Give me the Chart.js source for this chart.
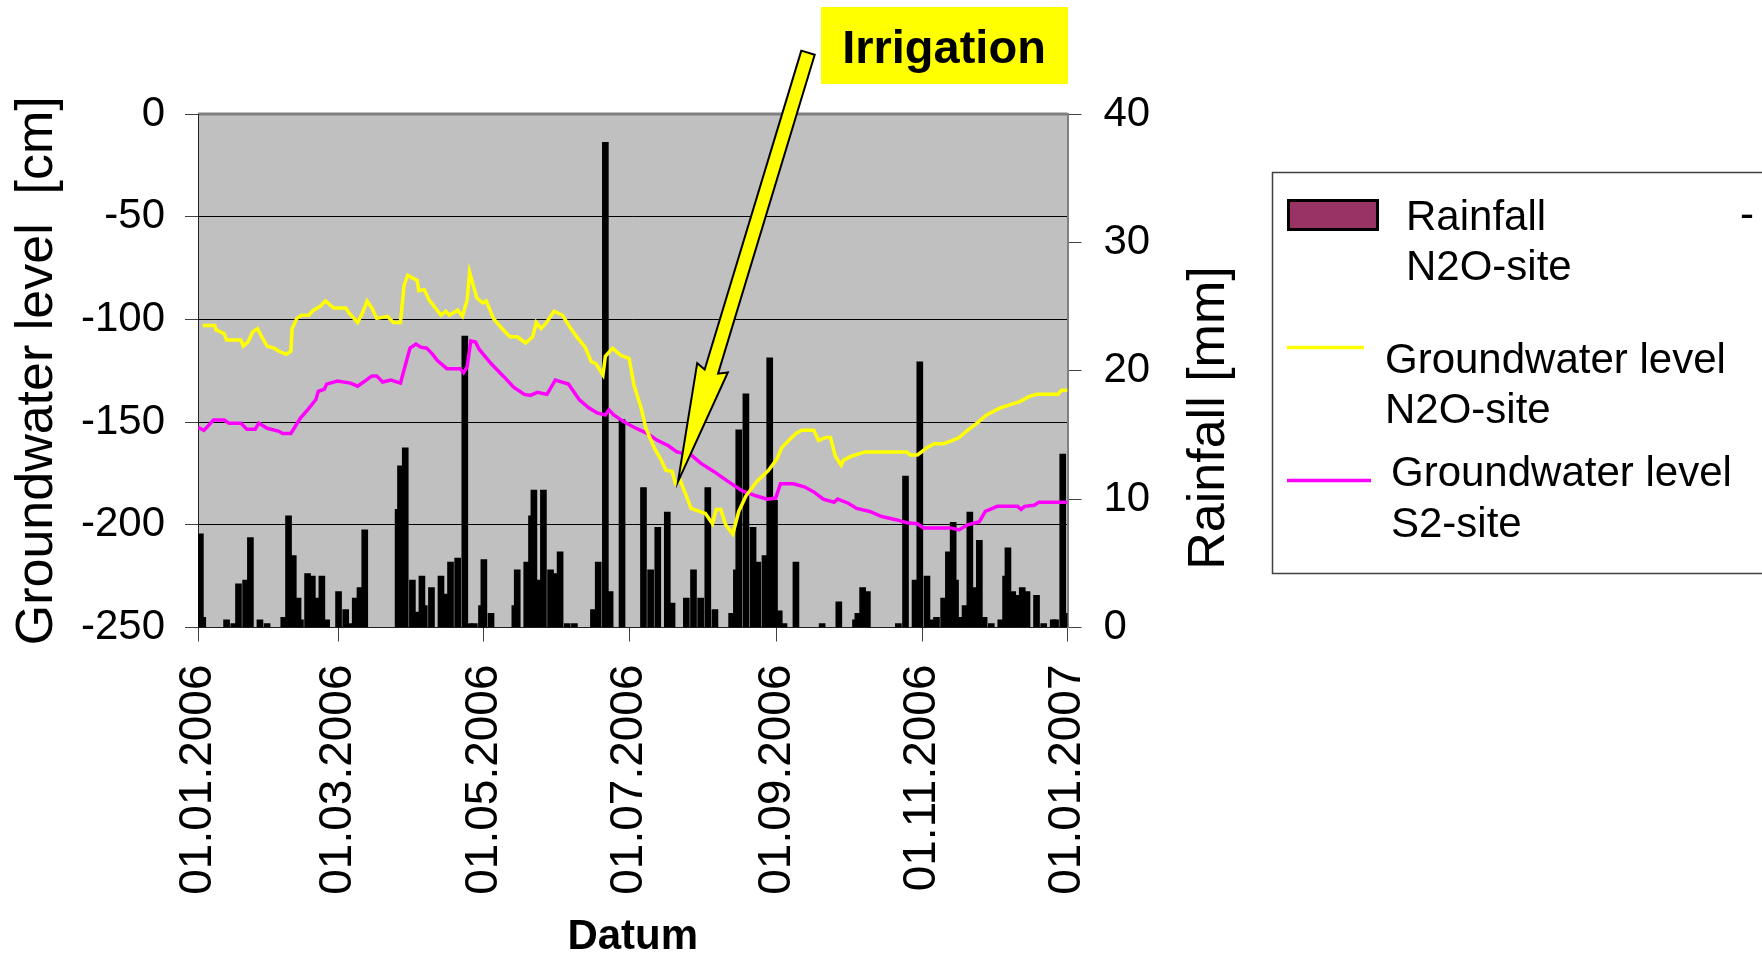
<!DOCTYPE html>
<html>
<head>
<meta charset="utf-8">
<title>Groundwater level and rainfall 2006</title>
<style>
  html, body { margin: 0; padding: 0; background: #ffffff; }
  #wrap { width: 1762px; height: 960px; position: relative; }
</style>
<script src="https://cdn.jsdelivr.net/npm/chart.js@4.4.1/dist/chart.umd.min.js"></script>
</head>
<body>
<div id="wrap"><canvas id="gwChart" width="1762" height="960"></canvas></div>
<script>
const FONT = "'Liberation Sans', Arial, Helvetica, sans-serif";

// x axis: day of year 2006 (0 = 01.01.2006)
const dayTicks = [0, 59, 120, 181, 243, 304, 365];
const dayTickLabels = ["01.01.2006", "01.03.2006", "01.05.2006", "01.07.2006", "01.09.2006", "01.11.2006", "01.01.2007"];

// daily rainfall N2O-site, [day, mm]
const rainfall = [
  [1, 7.3], [2, 0.8], [12, 0.6], [15, 0.3], [17, 3.4], [20, 3.7], [22, 7.0], [26, 0.6], [29, 0.3],
  [36, 0.8], [38, 8.7], [40, 5.6], [42, 2.3], [43, 0.6], [46, 4.2], [48, 4.0], [50, 2.3], [52, 4.0],
  [54, 0.6], [59, 2.8], [62, 1.4], [64, 0.3], [66, 2.3], [68, 3.1], [70, 7.6], [84, 9.2], [85, 12.6],
  [87, 14.0], [90, 3.7], [92, 1.2], [94, 4.0], [95, 1.7], [98, 3.1], [102, 4.0], [104, 2.6], [106, 5.1],
  [109, 5.4], [112, 22.7], [114, 0.3], [116, 0.3], [119, 1.7], [120, 5.3], [123, 1.1], [133, 1.7],
  [134, 4.5], [138, 5.1], [140, 8.7], [141, 10.7], [143, 3.7], [145, 10.7], [148, 4.5], [150, 4.2],
  [152, 5.9], [155, 0.3], [158, 0.3], [166, 1.4], [168, 5.1], [171, 37.8], [173, 2.8], [178, 16.2],
  [187, 10.9], [190, 4.5], [193, 7.8], [197, 9.0], [199, 1.9], [205, 2.3], [208, 4.5], [211, 2.3],
  [214, 10.9], [217, 1.4], [224, 1.1], [226, 4.5], [227, 15.4], [230, 18.2], [233, 7.8], [235, 5.1],
  [238, 5.6], [240, 21.0], [242, 9.9], [244, 1.3], [246, 0.3], [251, 5.1], [262, 0.3], [269, 2.0],
  [276, 0.6], [277, 1.1], [279, 3.1], [281, 2.8], [294, 0.3], [297, 11.8], [301, 3.7], [303, 20.7],
  [306, 4.0], [308, 0.6], [310, 0.8], [313, 2.3], [315, 5.9], [317, 8.2], [318, 3.7], [320, 0.8],
  [322, 1.7], [324, 9.0], [326, 3.1], [328, 6.8], [330, 0.8], [333, 0.3], [337, 0.6], [339, 4.0],
  [340, 6.2], [342, 2.8], [344, 2.5], [346, 3.1], [348, 2.8], [352, 2.5], [355, 0.3], [359, 0.6],
  [360, 0.6], [363, 13.5], [364, 1.1]
];

// groundwater level N2O-site, [day, cm]
const gwN2O = [
  [2, -103], [7, -103], [7.5, -105], [11, -107], [12, -110], [18, -110], [19, -113], [21, -111],
  [23, -106], [25, -104.5], [27, -109], [29, -113], [32, -114], [34, -115.5], [37, -117], [39, -115.5],
  [39.5, -104.5], [41.5, -99.5], [43.5, -98], [46.5, -98], [48.5, -95.5], [51.5, -93.5], [53.5, -91],
  [57, -94.5], [62, -94.5], [63.5, -97], [67, -101.5], [69, -97], [71, -91], [73, -94.5], [75, -99.5],
  [79.5, -98.5], [82, -101.5], [85, -101.5], [86.5, -83.5], [88, -78.5], [92, -81], [92.7, -86],
  [95, -85.5], [97, -90.5], [102, -98], [104, -96], [105.5, -98], [109, -95.5], [111, -98.5],
  [113, -90.5], [114, -77], [117, -89.5], [119.5, -92], [121, -91], [124, -99.5], [126.5, -103],
  [128.5, -105.5], [131, -108.5], [134, -108.5], [137.5, -111.5], [140.5, -108.5], [142, -101.5],
  [144, -104.5], [146, -102], [149.5, -96], [153, -98], [156.5, -104.5], [159, -108.5], [162.5, -113.5],
  [165, -120.5], [167, -121.5], [170, -127], [171, -118], [174, -114], [177.5, -117.5], [181, -119],
  [183, -132], [186, -143], [188, -153], [191.5, -162.5], [194, -167.5], [196.5, -173.5], [199, -174],
  [200.5, -180], [202.5, -178.5], [205.5, -187.5], [207, -192], [210.5, -193.5], [213, -194.5],
  [216, -199.5], [217.5, -192.5], [219.5, -192.5], [221.5, -200], [224.5, -204.5], [227, -193.5],
  [230, -186], [234.5, -179], [239.5, -173.5], [243, -168], [245, -162.5], [248, -159], [251, -155.5],
  [253.5, -154], [258.5, -154], [260.5, -159], [263.5, -157.5], [265.5, -157.5], [267.5, -166.5],
  [270, -171], [271, -168.5], [274.5, -166.5], [280, -164.5], [297.5, -164.5], [299, -166], [302, -166],
  [306, -162.5], [309, -160.5], [313, -160.5], [316.5, -159], [319.5, -157.5], [323, -154], [327, -150.5],
  [331, -146.5], [337, -143], [341, -141.5], [345, -140], [349, -137.5], [352, -136.5], [361, -136.5],
  [362.5, -134.5], [365, -134.5]
];

// groundwater level S2-site, [day, cm]
const gwS2 = [
  [0, -152.5], [2.5, -154], [6.5, -149], [11, -149], [13, -150.5], [18, -150.5], [20.5, -153.5],
  [24, -153.5], [25.5, -150.5], [29, -153], [34, -154.5], [35.5, -155.5], [39, -155.5], [43, -148],
  [46, -144], [49.5, -139], [50.5, -135], [53, -134], [54, -131.5], [58.5, -130], [64, -131],
  [67, -132.5], [69.5, -130.5], [73, -127.5], [75, -127.5], [77.5, -130.5], [81, -129.5], [85, -131],
  [89, -114], [91.5, -112], [93.5, -113.5], [96, -114], [98.5, -117], [100.5, -120], [103, -122.5],
  [104.5, -124], [110, -124], [111.5, -126], [113, -123], [114.5, -110.5], [116.5, -111], [118, -114.5],
  [123, -121.5], [128.5, -128], [132.5, -133], [137, -136.5], [139.5, -137], [142.5, -135.5],
  [146.5, -136.5], [150, -129.5], [155.5, -131.5], [160, -139], [164, -143], [167.5, -145.5],
  [171, -146.5], [172.5, -144], [174.5, -146.5], [179, -150], [183, -152.5], [188.5, -155.5],
  [193, -159], [197.5, -161.5], [201, -164.5], [207, -166], [211, -170], [216.5, -174], [222, -178.5],
  [228.5, -183.5], [234.5, -186], [239, -187.5], [242.5, -187], [244.5, -180], [250, -180],
  [254.5, -181.5], [258.5, -184], [262.5, -187.5], [267, -189], [268.5, -187.5], [273, -189.5],
  [276.5, -192], [282, -193.5], [287, -196], [293, -197.5], [297.5, -199], [302, -199.5],
  [304.5, -201.5], [316, -201.5], [319.5, -202.5], [323, -200], [328, -198.5], [330.5, -193.5],
  [335.5, -191], [344, -191], [345.5, -192.5], [347, -191], [351, -190.5], [353, -189], [365, -189]
];

// where the irrigation arrow points (day, cm)
const irrigationDay = 201.5;
const irrigationLevel = -179;

const colors = {
  plot: "#c0c0c0",
  frame: "#808080",
  yellow: "#ffff00",
  magenta: "#ff00ff",
  bar: "#000000",
  swatch: "#993366",
  text: "#000000"
};

const toPoints = (rows) => rows.map(([x, y]) => ({ x, y }));

const plotBackground = {
  id: "plotBackground",
  beforeDraw(chart) {
    const { ctx, chartArea: a } = chart;
    ctx.save();
    ctx.fillStyle = colors.plot;
    ctx.fillRect(a.left, a.top, a.right - a.left, a.bottom - a.top);
    ctx.strokeStyle = colors.frame;
    ctx.lineWidth = 3;
    ctx.beginPath();
    ctx.moveTo(a.left, a.top);
    ctx.lineTo(a.right, a.top);
    ctx.stroke();
    ctx.restore();
  }
};

const overlay = {
  id: "overlay",
  afterDraw(chart) {
    const { ctx, scales } = chart;
    ctx.save();

    // right axis title, reads bottom to top like the left one
    ctx.fillStyle = colors.text;
    ctx.font = `52px ${FONT}`;
    ctx.textAlign = "center";
    ctx.textBaseline = "middle";
    ctx.translate(1210, 418);
    ctx.rotate(-Math.PI / 2);
    ctx.fillText("Rainfall [mm]", 0, 0);
    ctx.setTransform(1, 0, 0, 1, 0, 0);

    // legend
    ctx.strokeStyle = "#404040";
    ctx.lineWidth = 1.5;
    ctx.strokeRect(1272.5, 172.5, 520, 401);

    ctx.fillStyle = colors.swatch;
    ctx.fillRect(1288.5, 200.5, 89, 29);
    ctx.strokeStyle = "#000";
    ctx.lineWidth = 3;
    ctx.strokeRect(1288.5, 200.5, 89, 29);

    ctx.lineWidth = 3.5;
    ctx.strokeStyle = colors.yellow;
    ctx.beginPath();
    ctx.moveTo(1287, 347.5);
    ctx.lineTo(1364, 347.5);
    ctx.stroke();
    ctx.strokeStyle = colors.magenta;
    ctx.beginPath();
    ctx.moveTo(1287, 480.5);
    ctx.lineTo(1371, 480.5);
    ctx.stroke();

    ctx.fillStyle = colors.text;
    ctx.font = `42px ${FONT}`;
    ctx.textAlign = "left";
    ctx.textBaseline = "alphabetic";
    ctx.fillText("Rainfall", 1406, 230);
    ctx.fillText("N2O-site", 1406, 280);
    ctx.fillText("-", 1740, 228);
    ctx.fillText("Groundwater level", 1385, 373);
    ctx.fillText("N2O-site", 1385, 423);
    ctx.fillText("Groundwater level", 1391, 486);
    ctx.fillText("S2-site", 1391, 537);

    // irrigation label
    ctx.fillStyle = colors.yellow;
    ctx.fillRect(821, 7, 247, 77);
    ctx.fillStyle = colors.text;
    ctx.font = `bold 47px ${FONT}`;
    ctx.textAlign = "center";
    ctx.fillText("Irrigation", 944, 63);

    // irrigation arrow
    const tipX = scales.x.getPixelForValue(irrigationDay);
    const tipY = scales.y.getPixelForValue(irrigationLevel);
    const tailX = tipX + 130;
    const tailY = tipY - 429;
    const len = Math.hypot(tipX - tailX, tipY - tailY);
    const dx = (tipX - tailX) / len;
    const dy = (tipY - tailY) / len;
    const nx = -dy;
    const ny = dx;
    const headLen = 115;
    const shaft = 7;
    const head = 16;
    const baseX = tipX - dx * headLen;
    const baseY = tipY - dy * headLen;
    ctx.beginPath();
    ctx.moveTo(tailX + nx * shaft, tailY + ny * shaft);
    ctx.lineTo(baseX + nx * shaft, baseY + ny * shaft);
    ctx.lineTo(baseX + nx * head - dx * 4, baseY + ny * head - dy * 4);
    ctx.lineTo(tipX, tipY);
    ctx.lineTo(baseX - nx * head - dx * 4, baseY - ny * head - dy * 4);
    ctx.lineTo(baseX - nx * shaft, baseY - ny * shaft);
    ctx.lineTo(tailX - nx * shaft, tailY - ny * shaft);
    ctx.closePath();
    ctx.fillStyle = colors.yellow;
    ctx.fill();
    ctx.strokeStyle = "#000";
    ctx.lineWidth = 2;
    ctx.lineJoin = "miter";
    ctx.stroke();

    ctx.restore();
  }
};

new Chart(document.getElementById("gwChart"), {
  type: "bar",
  data: {
    datasets: [
      {
        type: "line",
        label: "Groundwater level N2O-site",
        data: toPoints(gwN2O),
        yAxisID: "y",
        borderColor: colors.yellow,
        borderWidth: 3.5,
        pointRadius: 0,
        tension: 0,
        fill: false,
        order: 0
      },
      {
        type: "line",
        label: "Groundwater level S2-site",
        data: toPoints(gwS2),
        yAxisID: "y",
        borderColor: colors.magenta,
        borderWidth: 3.5,
        pointRadius: 0,
        tension: 0,
        fill: false,
        order: 1
      },
      {
        type: "bar",
        label: "Rainfall N2O-site",
        data: toPoints(rainfall),
        yAxisID: "y1",
        backgroundColor: colors.bar,
        borderWidth: 0,
        barThickness: 6,
        grouped: false,
        order: 2
      }
    ]
  },
  options: {
    responsive: false,
    animation: false,
    events: [],
    layout: { padding: { top: 114, right: 494.5, bottom: 0, left: 0 } },
    plugins: {
      legend: { display: false },
      tooltip: { enabled: false }
    },
    scales: {
      x: {
        type: "linear",
        min: 0,
        max: 365,
        offset: false,
        afterBuildTicks: (axis) => {
          axis.ticks = dayTicks.map((value) => ({ value }));
        },
        afterFit: (axis) => {
          axis.height = 332.5;
        },
        ticks: {
          autoSkip: false,
          minRotation: 90,
          maxRotation: 90,
          padding: 23,
          color: colors.text,
          font: { family: FONT, size: 46 },
          callback: (value, index) => dayTickLabels[index]
        },
        grid: {
          offset: false,
          drawOnChartArea: false,
          drawTicks: true,
          tickLength: 14,
          color: "#404040",
          lineWidth: 1
        },
        border: { display: true, color: "#202020", width: 1 },
        title: {
          display: true,
          text: "Datum",
          color: colors.text,
          font: { family: FONT, size: 42, weight: "bold", lineHeight: 1 },
          padding: { top: 0, bottom: 2 }
        }
      },
      y: {
        position: "left",
        min: -250,
        max: 0,
        afterFit: (axis) => {
          axis.width = 198;
        },
        ticks: {
          stepSize: 50,
          padding: 20,
          color: colors.text,
          font: { family: FONT, size: 42 }
        },
        grid: {
          color: (ctx) => (ctx.tick.value === 0 || ctx.tick.value === -250 ? "rgba(0,0,0,0)" : "#000000"),
          tickColor: "#404040",
          tickLength: 13,
          lineWidth: 1
        },
        border: { display: true, color: "#202020", width: 1 },
        title: {
          display: true,
          text: "Groundwater level  [cm]",
          color: colors.text,
          font: { family: FONT, size: 52 },
          padding: { top: 6, bottom: 0 }
        }
      },
      y1: {
        position: "right",
        min: 0,
        max: 40,
        afterFit: (axis) => {
          axis.width = 200;
        },
        ticks: {
          stepSize: 10,
          padding: 22,
          color: colors.text,
          font: { family: FONT, size: 42 }
        },
        grid: {
          drawOnChartArea: false,
          tickColor: "#404040",
          tickLength: 14
        },
        border: { display: true, color: colors.frame, width: 2 }
      }
    }
  },
  plugins: [plotBackground, overlay]
});
</script>
</body>
</html>
